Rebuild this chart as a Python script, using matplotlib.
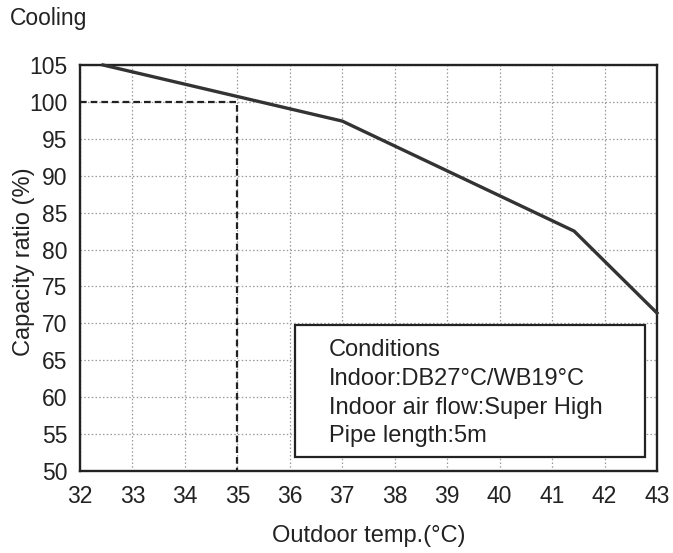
import matplotlib.pyplot as plt
from matplotlib.patches import Rectangle

plt.rcParams['font.family'] = ['Liberation Sans', 'DejaVu Sans']

# capacity curve
temps = [32.44, 37.0, 41.42, 43.0]
capacity = [105.0, 97.4, 82.5, 71.4]

# rated point marker (dashed guide)
rated_temp = 35
rated_cap = 100

x_ticks = list(range(32, 44))
y_ticks = list(range(50, 106, 5))

conditions = ["Conditions",
              "Indoor:DB27°C/WB19°C",
              "Indoor air flow:Super High",
              "Pipe length:5m"]

fig = plt.figure(figsize=(6.73, 5.53), dpi=100)
ax = fig.add_axes([80 / 673, 1 - 471 / 553, 577 / 673, 406 / 553])

ax.set_xlim(32, 43)
ax.set_ylim(50, 105)
ax.set_xticks(x_ticks)
ax.set_yticks(y_ticks)
ax.tick_params(length=0, labelsize=16.5, colors='#222222')
ax.tick_params(axis='y', pad=9)
ax.tick_params(axis='x', pad=10)
ax.grid(True, linestyle=(0, (1.2, 1.8)), color='#999999', linewidth=0.9)
for s in ax.spines.values():
    s.set_linewidth(1.7)
    s.set_color('#222222')

ax.plot([32, rated_temp, rated_temp], [rated_cap, rated_cap, 50], color='#222222',
        linestyle=(0, (3, 1.8)), linewidth=1.6, zorder=3)
ax.plot(temps, capacity, color='#333333', linewidth=2.4, zorder=4, clip_on=False)

# conditions box
box = Rectangle((36.1, 51.9), 42.77 - 36.1, 69.8 - 51.9, facecolor='white',
                edgecolor='#222222', linewidth=1.6, zorder=5)
ax.add_patch(box)
y0 = 66.4
for i, line in enumerate(conditions):
    ax.text(36.74, y0 - i * 3.9, line, fontsize=17, color='#222222',
            va='center', ha='left', zorder=6)

ax.set_xlabel("Outdoor temp.(°C)", fontsize=17, color='#222222', labelpad=12)
ax.set_ylabel("Capacity ratio (%)", fontsize=17, color='#222222')
ax.yaxis.set_label_coords(-0.078, 0.515)
fig.text(10 / 673, 1 - 18 / 553, "Cooling", fontsize=16.5, color='#222222', va='center')

fig.savefig("out.png", dpi=100, facecolor='white')
